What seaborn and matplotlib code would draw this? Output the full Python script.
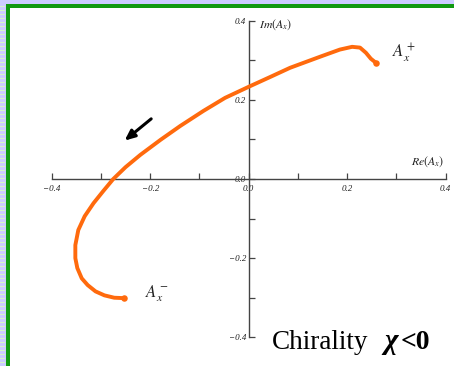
import matplotlib
matplotlib.use("Agg")
import matplotlib.pyplot as plt
from matplotlib.patches import Rectangle
from matplotlib.ticker import FixedLocator
import pandas as pd
import seaborn as sns

# Trajectory of A_x in the complex plane, from A_x^+ to A_x^-
re_ax = [0.258, 0.248, 0.238, 0.226, 0.210, 0.185, 0.145, 0.084, 0.044,
         0.0, -0.048, -0.092, -0.139, -0.179, -0.220, -0.250, -0.275,
         -0.295, -0.315, -0.333, -0.346, -0.352, -0.352, -0.348, -0.339,
         -0.327, -0.311, -0.293, -0.273, -0.254]
im_ax = [0.294, 0.304, 0.319, 0.332, 0.334, 0.327, 0.309, 0.281, 0.258,
         0.233, 0.205, 0.172, 0.134, 0.099, 0.061, 0.030, 0.0,
         -0.030, -0.061, -0.094, -0.129, -0.167, -0.200, -0.225, -0.251,
         -0.268, -0.284, -0.294, -0.300, -0.301]

major_ticks = [-0.4, -0.2, 0.0, 0.2, 0.4]
minor_ticks = [-0.3, -0.1, 0.1, 0.3]
tick_labels = ["\u22120.4", "\u22120.2", "0.0", "0.2", "0.4"]

curve_color = "#ff6a0d"
axis_color = "#444444"

sns.set_theme(style="white")
plt.rcParams["font.family"] = ["Liberation Serif", "DejaVu Serif"]
plt.rcParams["mathtext.fontset"] = "stix"

W, H = 454, 366
fig = plt.figure(figsize=(W / 100, H / 100), dpi=100)
fig.patch.set_facecolor("white")

# page frame: lavender margin with green rule on top and left
def px_rect(x0, y0, w, h, color):
    fig.patches.append(Rectangle((x0 / W, 1 - (y0 + h) / H), w / W, h / H,
                                 transform=fig.transFigure, color=color,
                                 lw=0, zorder=0))

px_rect(0, 0, W, 4, "#ccccff")
px_rect(0, 0, 6, H, "#ccccff")
for yy in range(6, H, 4):
    px_rect(0, yy, 5, 1, "#d8f5c8")
px_rect(6, 4, W - 6, 3.5, "#119911")
px_rect(6, 4, 3.5, H - 4, "#119911")

# axes box spanning exactly -0.4..0.4 in both directions
left_px, right_px = 51.7, 445.7
top_px, bot_px = 20.7, 337.3
ax = fig.add_axes([left_px / W, 1 - bot_px / H,
                   (right_px - left_px) / W, (bot_px - top_px) / H])
ax.set_facecolor("none")

df = pd.DataFrame({"re": re_ax, "im": im_ax})
sns.lineplot(data=df, x="re", y="im", sort=False, estimator=None,
             color=curve_color, lw=2.8, ax=ax, zorder=3)
ax.lines[-1].set_solid_joinstyle("round")
ax.lines[-1].set_solid_capstyle("round")
ax.scatter([re_ax[0], re_ax[-1]], [im_ax[0], im_ax[-1]], s=22,
           color=curve_color, zorder=4, lw=0)

ax.set_xlim(-0.4, 0.4)
ax.set_ylim(-0.4, 0.4)
ax.set_xlabel("")
ax.set_ylabel("")

for side in ("top", "right"):
    ax.spines[side].set_visible(False)
for side in ("left", "bottom"):
    ax.spines[side].set_position(("data", 0))
    ax.spines[side].set_color(axis_color)
    ax.spines[side].set_linewidth(1.0)

ax.xaxis.set_major_locator(FixedLocator(major_ticks))
ax.xaxis.set_minor_locator(FixedLocator(minor_ticks))
ax.yaxis.set_major_locator(FixedLocator(major_ticks))
ax.yaxis.set_minor_locator(FixedLocator(minor_ticks))
ax.set_xticklabels(tick_labels)
ax.set_yticklabels(tick_labels)
ax.tick_params(which="both", direction="in", length=4, width=0.9,
               color=axis_color, labelcolor="#222222", labelsize=6.5)
ax.tick_params(axis="x", which="both", bottom=True, pad=4)
ax.tick_params(axis="y", which="both", left=True, pad=2)
for lab in ax.get_xticklabels() + ax.get_yticklabels():
    lab.set_fontstyle("italic")

# axis names
ax.text(0.020, 0.390, r"$Im(A_x)$", fontsize=8.5, color="#222222",
        ha="left", va="center")
ax.text(0.398, 0.045, r"$Re(A_x)$", fontsize=8.5, color="#222222",
        ha="right", va="center")

# endpoint labels
ax.text(0.290, 0.318, r"$A_x^+$", fontsize=12, color="#222222",
        ha="left", va="center")
ax.text(-0.210, -0.290, r"$A_x^-$", fontsize=12, color="#222222",
        ha="left", va="center")

# direction of travel along the curve
ax.annotate("", xy=(-0.252, 0.097), xytext=(-0.198, 0.152),
            arrowprops=dict(arrowstyle="-|>,head_length=0.5,head_width=0.22",
                            color="black", lw=2.2, shrinkA=0, shrinkB=0))

# chirality caption
fig.text(272 / W, 1 - 349 / H, "Chirality", fontsize=19.5, color="black",
         ha="left", va="baseline")
fig.text(384 / W, 1 - 349 / H, "\u03c7", fontsize=21, color="black",
         ha="left", va="baseline", fontstyle="italic", fontweight="bold")
fig.text(401 / W, 1 - 349 / H, "<0", fontsize=20, color="black",
         ha="left", va="baseline", fontweight="bold")

fig.savefig("out.png", dpi=100)
